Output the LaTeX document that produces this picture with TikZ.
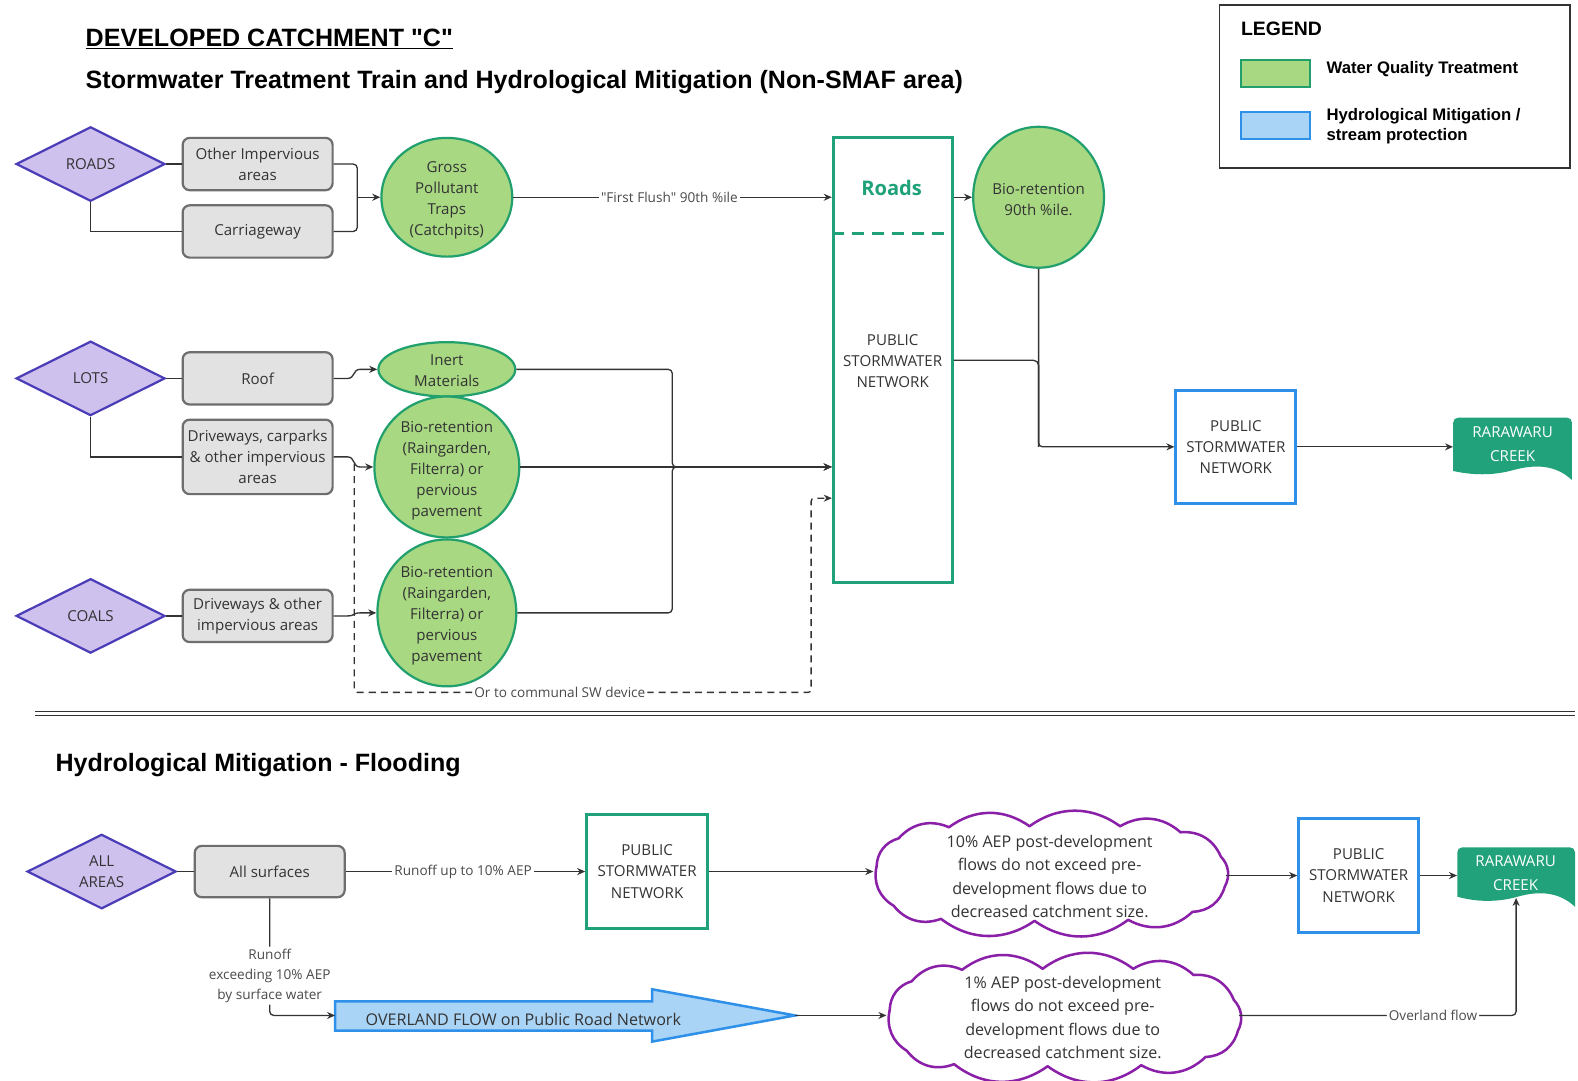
\documentclass[tikz,border=0pt]{standalone}
\usepackage{fontspec}
\setmainfont{Open Sans}
\newfontfamily\osq{Open Sans}
\newfontfamily\hd{Liberation Sans}
\usetikzlibrary{shapes.geometric,arrows.meta,calc}
\definecolor{txt}{HTML}{333333}
\definecolor{lc}{HTML}{333333}
\definecolor{lbc}{HTML}{4A4A4A}
\definecolor{diab}{HTML}{4B3DB8}
\definecolor{diaf}{HTML}{CFC1EE}
\definecolor{gb}{HTML}{6E6E6E}
\definecolor{gf}{HTML}{E2E2E2}
\definecolor{gfill}{HTML}{A8D882}
\definecolor{gbord}{HTML}{21A06E}
\definecolor{teal}{HTML}{1FA27A}
\definecolor{bb}{HTML}{2E90E8}
\definecolor{bf}{HTML}{AAD4F6}
\definecolor{creekc}{HTML}{22A27A}
\definecolor{cloudc}{HTML}{8A1FA8}
\newcommand\fs[2]{\fontsize{#1}{#2}\selectfont}
\begin{document}
\begin{tikzpicture}[x=1pt,y=-1pt,
  dia/.style={diamond, aspect=2, minimum width=148, minimum height=74, inner sep=0, draw=diab, fill=diaf, line width=2.2pt, font=\fs{15}{21}, text=txt, align=center},
  gbox/.style={rectangle, rounded corners=7pt, minimum width=149, minimum height=52, draw=gb, fill=gf, line width=2.2pt, align=center, font=\fs{15}{21}, text=txt, inner sep=0},
  gell/.style={ellipse, draw=gbord, fill=gfill, line width=2.2pt, inner sep=0},
  txtn/.style={align=center, font=\fs{15}{21}, text=txt, inner sep=0},
  conn/.style={draw=lc, line width=1.3pt, -{Stealth[length=8pt,width=7pt]}},
  plain/.style={draw=lc, line width=1.3pt},
  lbl/.style={fill=white, inner sep=2pt, font=\fs{13.5}{20}, text=lbc, align=center},
  tbox/.style={rectangle, draw=teal, line width=3pt, fill=white, inner sep=0},
  bbox/.style={rectangle, draw=bb, line width=3pt, fill=white, inner sep=0, align=center, font=\fs{15}{21}, text=txt},
  cldanchor/.style={ellipse, inner sep=0, minimum width=350},
  cldline/.style={draw=cloudc, fill=white, line width=2.5pt, line join=round},
  pf/.style={bend left=36},
  ctxt/.style={align=center, font=\fs{16}{23}, text=txt, inner sep=0}
]
\useasboundingbox[fill=white] (0,0) rectangle (1568,1074);

% titles
\node[anchor=base west, inner sep=0, font=\hd\bfseries\fs{24.9}{28}, text=black] (title) at (85,46) {\underline{DEVELOPED CATCHMENT "C"}};
\node[anchor=base west, inner sep=0, font=\hd\bfseries\fs{24.9}{28}, text=black] (sub1) at (85,88) {Stormwater Treatment Train and Hydrological Mitigation (Non-SMAF area)};
\node[anchor=base west, inner sep=0, font=\hd\bfseries\fs{24.9}{28}, text=black] (sub2) at (55,767) {Hydrological Mitigation - Flooding};

% legend
\node[draw=txt, line width=1.2pt, minimum width=348, minimum height=162, inner sep=0] (legend) at (1386,86) {};
\node[anchor=base west, inner sep=0, font=\hd\bfseries\fs{19.3}{22}, text=black] (legt) at (1233,35) {LEGEND};
\node[draw=gbord, fill=gfill, line width=2pt, minimum width=69, minimum height=26, inner sep=0] (leg1) at (1267.5,73) {};
\node[anchor=west, inner sep=0, font=\hd\bfseries\fs{16.6}{20}, text=black] (leg1t) at (1318,69) {Water Quality Treatment};
\node[draw=bb, fill=bf, line width=2pt, minimum width=69, minimum height=27, inner sep=0] (leg2) at (1267.5,124.5) {};
\node[anchor=west, inner sep=0, font=\hd\bfseries\fs{16.6}{20}, text=black, align=left] (leg2t) at (1318,125) {Hydrological Mitigation /\\stream protection};

% ---------- top section ----------
\node[dia] (roads) at (90,163) {ROADS};
\node[gbox] (oth) at (256,163) {Other Impervious\\areas};
\node[gbox] (carr) at (256,230) {Carriageway};
\node[gell, minimum width=130, minimum height=118] (gpt) at (444,196) {};
\node[txtn] (gptt) at (444,199) {Gross\\Pollutant\\Traps\\(Catchpits)};

\node[tbox, minimum width=118, minimum height=442] (net) at (887,358) {};
\node[inner sep=0, font=\bfseries\fs{20}{24}, text=teal] (netroads) at (886,187) {Roads};
\draw[teal, line width=3pt, dash pattern=on 12pt off 8pt] (net.west |- 0,232) -- (net.east |- 0,232);
\node[txtn] (nett) at (887,359) {PUBLIC\\STORMWATER\\NETWORK};

\node[gell, minimum width=130, minimum height=140] (bio90) at (1032,196) {};
\node[txtn] (bio90t) at (1032,198) {Bio-retention\\90th \%ile.};

\node[dia] (lots) at (90,376) {LOTS};
\node[gbox] (roof) at (256,376) {Roof};
\node[gbox, minimum height=74] (drv) at (256,454) {Driveways, carparks\\\& other impervious\\areas};
\node[gell, minimum width=136, minimum height=54] (inert) at (444,367) {};
\node[txtn] (inertt) at (444,368) {Inert\\Materials};
\node[gell, minimum width=144, minimum height=140] (bio1) at (444,464) {};
\node[txtn] (bio1t) at (444,468) {Bio-retention\\(Raingarden,\\Filterra) or\\pervious\\pavement};

\node[dia] (coals) at (90,612) {COALS};
\node[gbox] (cdrv) at (256,612) {Driveways \& other\\impervious areas};
\node[gell, minimum width=138, minimum height=146] (bio2) at (444,609) {};
\node[txtn] (bio2t) at (444,612) {Bio-retention\\(Raingarden,\\Filterra) or\\pervious\\pavement};

\node[bbox, minimum width=119, minimum height=112] (psn1) at (1228,444) {PUBLIC\\STORMWATER\\NETWORK};

\node[minimum width=118, minimum height=58, inner sep=0] (creek1) at (1503,444) {};
\fill[creekc] (1444,468) -- (1444,420) .. controls (1444,417) and (1446,415) .. (1449,415) -- (1557,415) .. controls (1560,415) and (1562,417) .. (1562,420) -- (1562,477) .. controls (1546,462) and (1526,461) .. (1504,467) .. controls (1483,473) and (1462,472) .. (1444,468) -- cycle;
\node[inner sep=0, align=center, font=\fs{15}{24}, text=white] (creek1t) at (1503,441) {RARAWARU\\CREEK};

% top connectors
\draw[plain] (roads.east) -- (oth.west);
\draw[plain] (roads.south) |- (carr.west);
\coordinate (jg) at (355,196);
\draw[plain, rounded corners=4pt] (oth.east) -| (jg);
\draw[plain, rounded corners=4pt] (carr.east) -| (jg);
\draw[conn] (jg) -- (gpt.west);
\draw[conn] (gpt.east) -- node[lbl, pos=0.49]{{\osq"}First Flush{\osq"} 90th \%ile} (gpt.east -| net.west);
\draw[conn] (bio90.west -| net.east) -- (bio90.west);

\draw[plain] (lots.east) -- (roof.west);
\draw[plain] (lots.south) |- (drv.west);
\draw[plain] (coals.east) -- (cdrv.west);
\draw[conn] (roof.east) -- ++(14,0) .. controls ++(7,0) and ++(-7,0) .. ++(12,-9) -- (inert.west);
\draw[conn] (drv.east) -- ++(14,0) .. controls ++(7,0) and ++(-7,0) .. ++(12,10) -- (bio1.west);
\draw[conn] (cdrv.east) -- ++(14,0) .. controls ++(7,0) and ++(-7,0) .. ++(12,-3) -- (bio2.west);

\coordinate (jn) at (668,464);
\draw[conn, rounded corners=4pt] (inert.east) -| (jn) -- (jn -| net.west);
\draw[conn] (bio1.east) -- (jn) -- (jn -| net.west);
\draw[conn, rounded corners=4pt] (bio2.east) -| (jn) -- (jn -| net.west);

\coordinate (ds) at (352,461);
\coordinate (dc1) at (352,688);
\coordinate (dc2) at (806,688);
\coordinate (dc3) at (806,495);
\draw[conn, dash pattern=on 7pt off 5pt, rounded corners=3pt] (ds) -- (dc1) -- node[lbl, pos=0.45]{Or to communal SW device} (dc2) -- (dc3) -- (dc3 -| net.west);

\coordinate (jb) at (1032,444);
\draw[plain, rounded corners=5pt] (net.east) -| (jb);
\draw[conn, rounded corners=4pt] (bio90.south) |- (psn1.west);
\draw[conn] (psn1.east) -- (psn1.east -| creek1.west);

% separator
\draw[lc, line width=1pt, double=white, double distance=2.5pt] (35,709) -- (1565,709);

% ---------- bottom section ----------
\node[dia] (alla) at (101,866) {ALL\\AREAS};
\node[gbox, minimum height=51] (alls) at (268,866) {All surfaces};
\node[tbox, minimum width=120, minimum height=113] (psng) at (643,866) {};
\node[txtn] (psngt) at (643,866) {PUBLIC\\STORMWATER\\NETWORK};

\node[cldanchor, minimum height=116] (cloud1) at (1043,866) {};
\draw[cldline, shift={(1043,866)}] (-172,-5) to[pf] (-150,-33) to[pf] (-100,-44) to[pf] (-20,-45) to[pf] (70,-45) to[pf] (130,-39) to[pf] (170,-15) to[pf] (174,15) to[pf] (142,40) to[pf] (78,48) to[pf] (-15,49) to[pf] (-108,47) to[pf] (-155,34) to[pf] (-172,-5) -- cycle;
\node[ctxt] (cloud1t) at (1043,871) {10\% AEP post-development\\flows do not exceed pre-\\development flows due to\\decreased catchment size.};
\node[bbox, minimum width=119, minimum height=113] (psnb) at (1350,870) {PUBLIC\\STORMWATER\\NETWORK};

\node[minimum width=117, minimum height=50, inner sep=0] (creek2) at (1506.5,867) {};
\fill[creekc] (1448,891) -- (1448,847) .. controls (1448,844) and (1450,842) .. (1453,842) -- (1560,842) .. controls (1563,842) and (1565,844) .. (1565,847) -- (1565,901) .. controls (1549,886) and (1529,885) .. (1508,891) .. controls (1487,897) and (1466,896) .. (1448,891) -- cycle;
\node[inner sep=0, align=center, font=\fs{15}{24}, text=white] (creek2t) at (1506,868) {RARAWARU\\CREEK};

\coordinate (ovw) at (333,1009);
\coordinate (ovtip) at (790,1009);
\fill[bf] (333,995) -- (648,995) -- (648,983) -- (790,1009) -- (648,1035) -- (648,1024) -- (333,1024) -- cycle;
\draw[bb, line width=2.5pt, line join=miter] (333,995) -- (648,995) -- (648,983) -- (790,1009) -- (648,1035) -- (648,1024) -- (333,1024) -- cycle;
\node[inner sep=0, font=\fs{16}{20}, text=txt] (ovt) at (520,1013) {OVERLAND FLOW on Public Road Network};

\node[cldanchor, minimum height=123] (cloud2) at (1056,1009) {};
\draw[cldline, shift={(1056,1009)}, yscale=1.03] (-172,-5) to[pf] (-150,-33) to[pf] (-100,-44) to[pf] (-20,-45) to[pf] (70,-45) to[pf] (130,-39) to[pf] (170,-15) to[pf] (174,15) to[pf] (142,40) to[pf] (78,48) to[pf] (-15,49) to[pf] (-108,47) to[pf] (-155,34) to[pf] (-172,-5) -- cycle;
\node[ctxt] (cloud2t) at (1056,1011) {1\% AEP post-development\\flows do not exceed pre-\\development flows due to\\decreased catchment size.};

% bottom connectors
\draw[plain] (alla.east) -- (alls.west);
\draw[conn] (alls.east) -- node[lbl, pos=0.49]{Runoff up to 10\% AEP} (psng.west);
\draw[conn] (psng.east) -- (cloud1.west);
\draw[conn] (psnb.west -| cloud1.east) -- (psnb.west);
\draw[conn] (psnb.east) -- (psnb.east -| creek2.west);
\draw[conn, rounded corners=4pt] (alls.south) |- node[lbl, pos=0.33]{Runoff\\exceeding 10\% AEP\\by surface water} (ovw);
\draw[conn] (ovtip) -- (cloud2.west);
\draw[conn, rounded corners=4pt] (cloud2.east) -| node[lbl, pos=0.35]{Overland flow} (creek2.south);
\end{tikzpicture}
\end{document}
